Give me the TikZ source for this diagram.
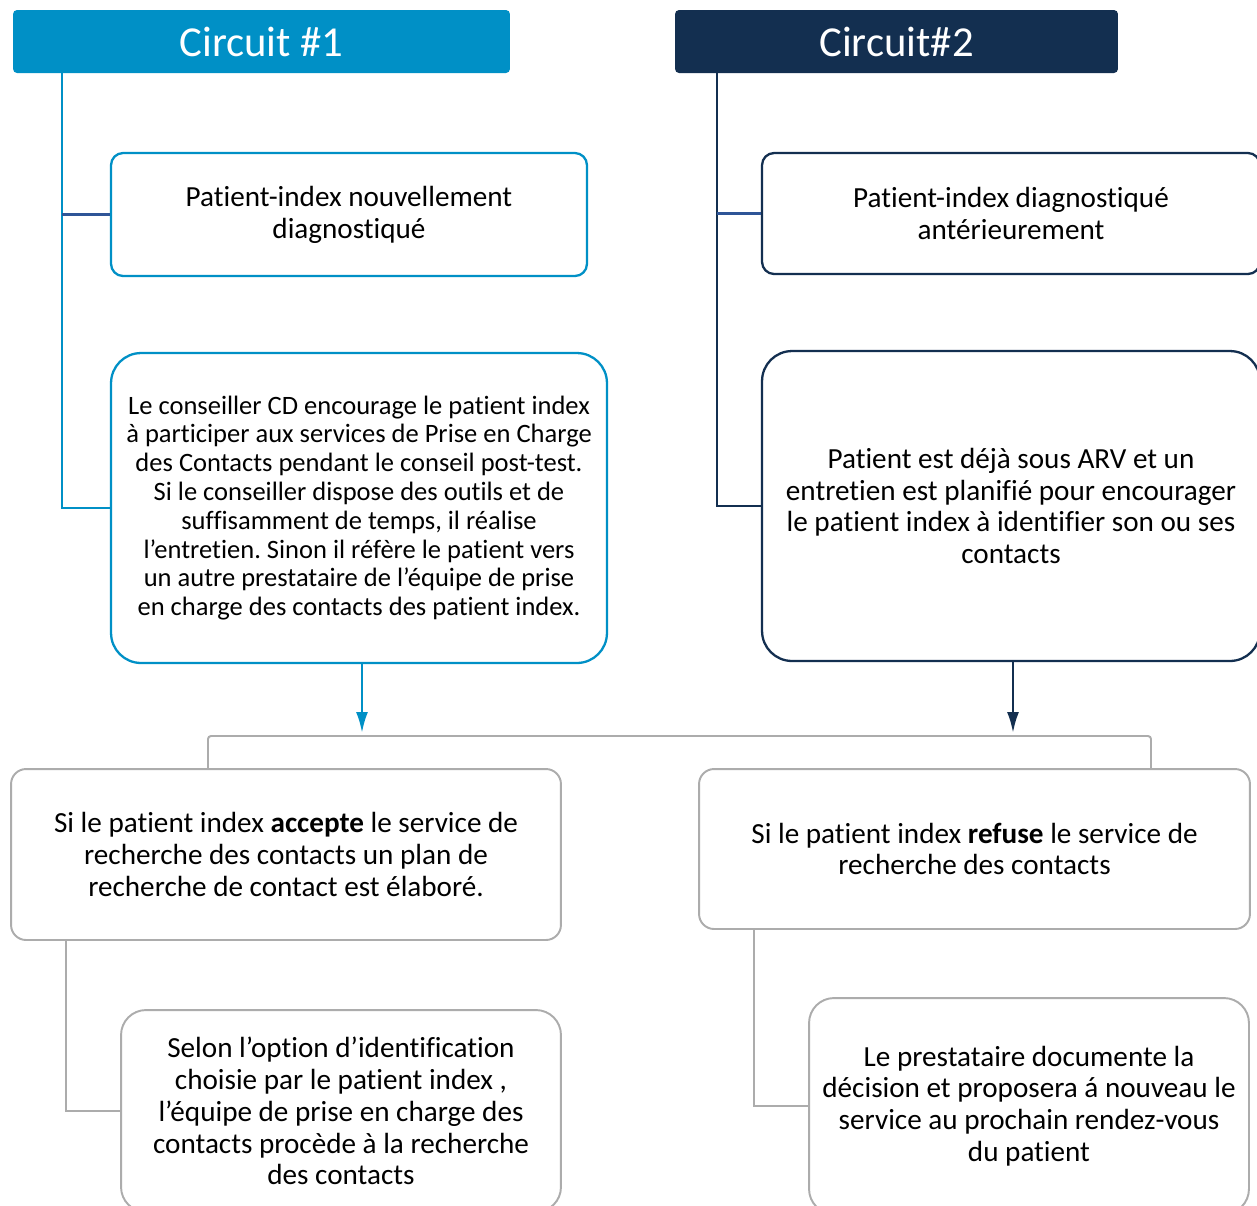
\documentclass[tikz,border=0pt]{standalone}
\usepackage{fontspec}
\setmainfont{Carlito}[Ligatures=NoCommon]
\usetikzlibrary{arrows.meta}
\definecolor{circA}{RGB}{0,144,198}
\definecolor{circB}{RGB}{19,47,80}
\definecolor{branchA}{RGB}{47,85,151}
\definecolor{boxgray}{RGB}{172,172,172}
\frenchspacing

\tikzset{
    hdr/.style={rounded corners=0.08cm,text=white,minimum height=1.26cm,
        font=\fontsize{24.3}{29}\selectfont},
    box/.style={fill=white,line width=1.3pt,align=center,inner sep=0pt,
        font=\fontsize{16.6}{18.1}\selectfont},
    boxA/.style={box,draw=circA},
    boxB/.style={box,draw=circB},
    boxG/.style={box,draw=boxgray,line width=1.1pt,rounded corners=0.3cm},
    arr/.style={line width=1.5pt,-{Latex[length=0.42cm,width=0.24cm]}}
}

\begin{document}
\begin{tikzpicture}[x=0.02cm,y=-0.02cm]
    \clip (0,0) rectangle (1257,1205);
    \fill[white] (0,0) rectangle (1257,1205);

    % circuit 1
    \node[hdr,fill=circA,minimum width=9.94cm] (hA) at (261.5,41.5) {Circuit \#1};
    \node[boxA,rounded corners=0.24cm,minimum width=9.52cm,minimum height=2.46cm] (A1) at (349,214.5)
        {Patient-index nouvellement\\diagnostiqué};
    \node[boxA,rounded corners=0.6cm,minimum width=9.92cm,minimum height=6.2cm,
        font=\fontsize{15.1}{16.4}\selectfont] (A2) at (359,508)
        {Le conseiller CD encourage le patient index\\
         à participer aux services de Prise en Charge\\
         des Contacts pendant le conseil post-test.\\
         Si le conseiller dispose des outils et de\\
         suffisamment de temps, il réalise\\
         l’entretien. Sinon il réfère le patient vers\\
         un autre prestataire de l’équipe de prise\\
         en charge des contacts des patient index.};
    \coordinate (trunkA) at (62,73);
    \draw[circA,line width=1.2pt] (trunkA) -- (trunkA |- A2.west) -- (A2.west);
    \draw[branchA,line width=1.2pt] (trunkA |- A1.west) -- (A1.west);

    % circuit 2
    \node[hdr,fill=circB,minimum width=8.86cm] (hB) at (896.5,41.5) {Circuit\#2};
    \node[boxB,rounded corners=0.24cm,minimum width=9.96cm,minimum height=2.42cm] (B1) at (1011,213.5)
        {Patient-index diagnostiqué\\antérieurement};
    \node[boxB,rounded corners=0.6cm,minimum width=9.96cm,minimum height=6.2cm] (B2) at (1011,506)
        {Patient est déjà sous ARV et un\\
         entretien est planifié pour encourager\\
         le patient index à identifier son ou ses\\
         contacts};
    \coordinate (trunkB) at (717,73);
    \draw[circB,line width=1.2pt] (trunkB) -- (trunkB |- B2.west) -- (B2.west);
    \draw[branchA,line width=1.2pt] (trunkB |- B1.west) -- (B1.west);

    % arrows
    \coordinate (arrA) at (362,733);
    \coordinate (arrB) at (1013,733);
    \draw[arr,circA] (A2.south -| arrA) -- (arrA);
    \draw[arr,circB] (B2.south -| arrB) -- (arrB);

    % decisions
    \node[boxG,minimum width=11.0cm,minimum height=3.42cm] (C1) at (286,854.5)
        {Si le patient index \textbf{accepte} le service de\\
         recherche des contacts un plan de\\
         recherche de contact est élaboré.};
    \node[boxG,minimum width=11.02cm,minimum height=3.2cm] (C2) at (974.5,849)
        {Si le patient index \textbf{refuse} le service de\\
         recherche des contacts};
    \coordinate (brL) at (208,736);
    \coordinate (brR) at (1151,736);
    \draw[boxgray,line width=1.1pt,rounded corners=0.06cm]
        (C1.north -| brL) -- (brL) -- (brR) -- (C2.north -| brR);

    % follow-up
    \node[boxG,rounded corners=0.5cm,minimum width=8.8cm,minimum height=4.04cm] (D1) at (341,1111)
        {Selon l’option d’identification\\
         choisie par le patient index ,\\
         l’équipe de prise en charge des\\
         contacts procède à la recherche\\
         des contacts};
    \node[boxG,rounded corners=0.5cm,minimum width=8.8cm,minimum height=4.32cm] (D2) at (1029,1106)
        {Le prestataire documente la\\
         décision et proposera á nouveau le\\
         service au prochain rendez-vous\\
         du patient};
    \coordinate (legL) at (66,940);
    \coordinate (legR) at (754,929);
    \draw[boxgray,line width=1.1pt] (C1.south -| legL) -- (legL |- D1.west) -- (D1.west);
    \draw[boxgray,line width=1.1pt] (C2.south -| legR) -- (legR |- D2.west) -- (D2.west);
\end{tikzpicture}
\end{document}
